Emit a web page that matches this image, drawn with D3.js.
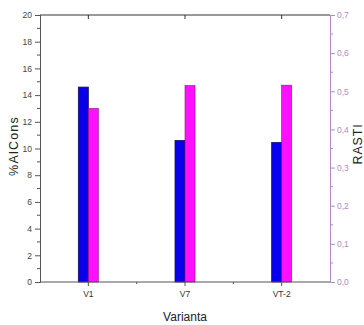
<!DOCTYPE html>
<html>
<head>
<meta charset="utf-8">
<script src="https://cdn.jsdelivr.net/npm/d3@7"></script>
<style>
  html, body { margin: 0; padding: 0; background: #fff; }
  svg { display: block; font-family: "Liberation Sans", Arial, sans-serif; }
</style>
</head>
<body>
<svg id="chart" width="364" height="325"></svg>
<script>
// Variants and the two measured series
const categories = ["V1", "V7", "VT-2"];
const alconsValues = [14.6, 10.6, 10.45];   // %AlCons, left axis
const rastiValues = [0.455, 0.515, 0.516];  // RASTI, right axis
const leftTicks = [0, 2, 4, 6, 8, 10, 12, 14, 16, 18, 20];
const rightTicks = [0, 0.1, 0.2, 0.3, 0.4, 0.5, 0.6, 0.7];

const svg = d3.select("#chart");
const m = { left: 40, right: 330, top: 15, bottom: 282 };
const barW = 10;

const x = d3.scaleBand().domain(categories).range([m.left, m.right]).padding(0);
const yL = d3.scaleLinear().domain([0, 20]).range([m.bottom, m.top]);
const yR = d3.scaleLinear().domain([0, 0.7]).range([m.bottom, m.top]);

const blue = "#0800ec", magenta = "#ff10ff";
const axisDark = "#555", rightColor = "#b28ac4";

// Bars: %AlCons left of centre, RASTI right of centre
const bars = svg.append("g");
bars.selectAll(".alcons").data(categories).join("rect")
  .attr("x", d => x(d) + x.bandwidth() / 2 - barW)
  .attr("y", (d, i) => yL(alconsValues[i]))
  .attr("width", barW)
  .attr("height", (d, i) => m.bottom - yL(alconsValues[i]))
  .attr("fill", blue).attr("stroke", "#1a0a60").attr("stroke-width", 0.8);
bars.selectAll(".rasti").data(categories).join("rect")
  .attr("x", d => x(d) + x.bandwidth() / 2)
  .attr("y", (d, i) => yR(rastiValues[i]))
  .attr("width", barW)
  .attr("height", (d, i) => m.bottom - yR(rastiValues[i]))
  .attr("fill", magenta).attr("stroke", "#8a1070").attr("stroke-width", 0.6);

// Left axis
const leftAxis = svg.append("g").attr("transform", `translate(${m.left},0)`)
  .call(d3.axisLeft(yL).tickValues(leftTicks).tickSize(5).tickPadding(3).tickFormat(d3.format("d")));
leftAxis.select(".domain").attr("stroke", axisDark);
leftAxis.selectAll(".tick line").attr("stroke", axisDark);
leftAxis.selectAll("text").attr("fill", "#444").attr("font-size", 8.5);
leftAxis.selectAll(".minor").data(d3.range(1, 20, 2)).join("line")
  .attr("x1", -3).attr("x2", 0).attr("y1", d => yL(d)).attr("y2", d => yL(d))
  .attr("stroke", axisDark);

// Right axis
const rightAxis = svg.append("g").attr("transform", `translate(${m.right},0)`)
  .call(d3.axisRight(yR).tickValues(rightTicks).tickSize(5).tickPadding(2)
    .tickFormat(d => d3.format(".1f")(d).replace(".", ",")));
rightAxis.select(".domain").attr("stroke", rightColor);
rightAxis.selectAll(".tick line").attr("stroke", rightColor);
rightAxis.selectAll("text").attr("fill", rightColor).attr("font-size", 8.5);
rightAxis.selectAll(".minor").data(d3.range(0.05, 0.7, 0.1)).join("line")
  .attr("x1", 0).attr("x2", 3).attr("y1", d => yR(d)).attr("y2", d => yR(d))
  .attr("stroke", rightColor);

// Bottom axis
const bottomAxis = svg.append("g").attr("transform", `translate(0,${m.bottom})`)
  .call(d3.axisBottom(x).tickSize(4).tickPadding(5));
bottomAxis.select(".domain").attr("stroke", axisDark).attr("d", `M${m.left},0H${m.right}`);
bottomAxis.selectAll(".tick line").attr("stroke", axisDark);
bottomAxis.selectAll("text").attr("fill", "#333").attr("font-size", 8.5);
bottomAxis.selectAll(".minor").data(categories.slice(1)).join("line")
  .attr("x1", d => x(d)).attr("x2", d => x(d)).attr("y1", 0).attr("y2", 2)
  .attr("stroke", axisDark);

// Top frame line with inward category ticks
const topFrame = svg.append("g").attr("transform", `translate(0,${m.top})`);
topFrame.append("line").attr("x1", m.left).attr("x2", m.right).attr("y1", 0).attr("y2", 0)
  .attr("stroke", "#333");
topFrame.selectAll(".t").data(categories).join("line")
  .attr("x1", d => x(d) + x.bandwidth() / 2).attr("x2", d => x(d) + x.bandwidth() / 2)
  .attr("y1", 0).attr("y2", 4).attr("stroke", "#333");

// Axis titles
svg.append("text").attr("transform", "translate(18,146) rotate(-90)")
  .attr("text-anchor", "middle").attr("font-size", 12.5).attr("letter-spacing", 1.2)
  .attr("fill", "#222").text("%AlCons");
svg.append("text").attr("transform", "translate(362,144) rotate(-90)")
  .attr("text-anchor", "middle").attr("font-size", 12.5).attr("letter-spacing", 0.8)
  .attr("fill", "#222").text("RASTI");
svg.append("text").attr("x", (m.left + m.right) / 2).attr("y", 321)
  .attr("text-anchor", "middle").attr("font-size", 12).attr("fill", "#222").text("Varianta");
</script>
</body>
</html>
